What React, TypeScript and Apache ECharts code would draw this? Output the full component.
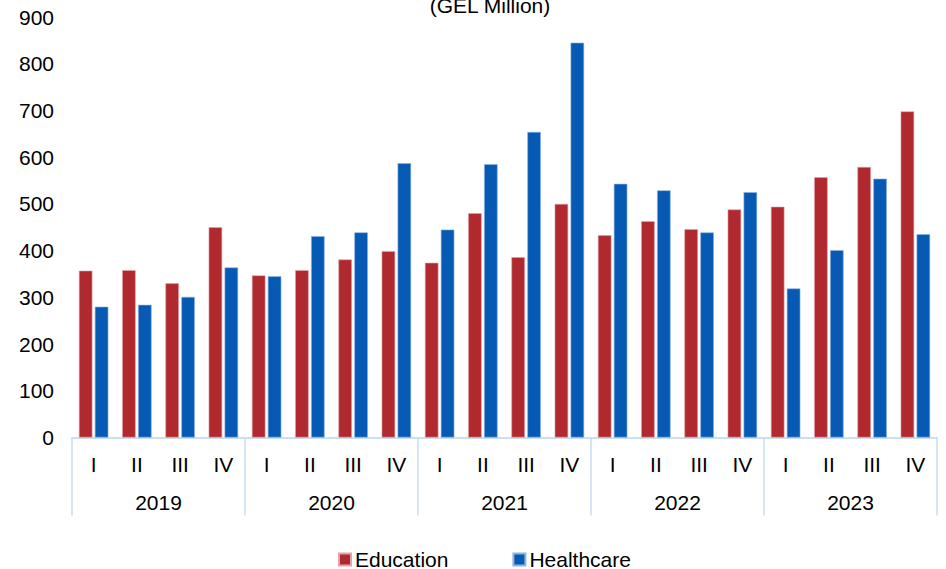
import React, { useEffect, useRef } from "react";
import * as echarts from "echarts";

const quarters = ["I", "II", "III", "IV", "I", "II", "III", "IV", "I", "II", "III", "IV", "I", "II", "III", "IV", "I", "II", "III", "IV"];
const years = ["2019", "2020", "2021", "2022", "2023"];
const education = [357, 358, 330, 450, 347, 358, 381, 399, 374, 480, 386, 500, 433, 463, 446, 488, 494, 557, 579, 698];
const healthcare = [280, 284, 301, 364, 345, 431, 439, 587, 445, 585, 654, 845, 543, 529, 439, 525, 319, 401, 554, 435];
const yTicks = [0, 100, 200, 300, 400, 500, 600, 700, 800, 900];

const FONT = "'Liberation Sans', Arial, sans-serif";
const RED = "#B0292F";
const BLUE = "#075AB4";
const AXIS = "#C8DCF1";

export default function App() {
  const ref = useRef<HTMLDivElement>(null);
  useEffect(() => {
    if (!ref.current) return;
    const chart = echarts.init(ref.current, null, { renderer: "svg" });
    chart.setOption({
      animation: false,
      backgroundColor: "#ffffff",
      textStyle: { fontFamily: FONT },
      graphic: [
        {
          type: "text",
          x: 490,
          y: 5,
          style: {
            text: "(GEL Million)",
            font: `21px ${FONT}`,
            fill: "#000",
            textAlign: "center",
            textVerticalAlign: "middle",
          },
        },
      ],
      legend: {
        left: 333,
        top: 544,
        itemWidth: 12,
        itemHeight: 12,
        itemGap: 64,
        icon: "rect",
        textStyle: { fontSize: 21, color: "#000", fontFamily: FONT, padding: [0, 0, 0, -1] },
        data: ["Education", "Healthcare"],
      },
      grid: { left: 72, right: 9, top: 17, bottom: 131.5, containLabel: false },
      xAxis: [
        {
          type: "category",
          data: quarters,
          position: "bottom",
          axisLine: { show: true, lineStyle: { color: AXIS, width: 1.5 } },
          axisTick: { show: false },
          axisLabel: { color: "#000", fontSize: 21, margin: 16, fontFamily: FONT, interval: 0 },
        },
        {
          type: "category",
          data: years,
          position: "bottom",
          axisLine: { show: true, lineStyle: { color: AXIS, width: 1.5 } },
          axisTick: { show: true, length: 78, alignWithLabel: false, interval: 0, lineStyle: { color: AXIS, width: 1.5 } },
          axisLabel: { color: "#000", fontSize: 21, margin: 54, fontFamily: FONT, interval: 0 },
        },
      ],
      yAxis: {
        type: "value",
        min: yTicks[0],
        max: yTicks[yTicks.length - 1],
        interval: 100,
        axisLine: { show: false },
        axisTick: { show: false },
        splitLine: { show: false },
        axisLabel: { color: "#000", fontSize: 21, margin: 18, fontFamily: FONT },
      },
      series: [
        {
          name: "Education",
          type: "bar",
          xAxisIndex: 0,
          data: education,
          barWidth: 13.5,
          barGap: "18%",
          itemStyle: { color: RED, borderColor: "#E3A3A6", borderWidth: 0.6 },
        },
        {
          name: "Healthcare",
          type: "bar",
          xAxisIndex: 0,
          data: healthcare,
          barWidth: 13.5,
          barGap: "18%",
          itemStyle: { color: BLUE, borderColor: "#8DB4E2", borderWidth: 0.6 },
        },
      ],
    });
    return () => chart.dispose();
  }, []);
  return <div ref={ref} style={{ width: 946, height: 569, position: "absolute", left: 0, top: 0 }} />;
}
